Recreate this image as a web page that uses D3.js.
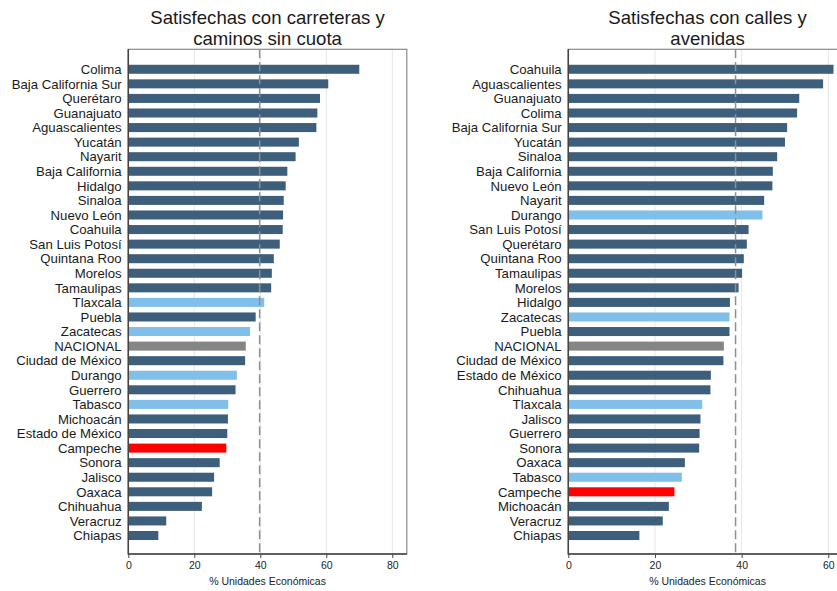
<!DOCTYPE html>
<html>
<head>
<meta charset="utf-8">
<script src="https://cdn.jsdelivr.net/npm/d3@7"></script>
<style>
  body { margin: 0; background: #fff; }
  svg { display: block; font-family: "Liberation Sans", Arial, Helvetica, sans-serif; }
</style>
</head>
<body>
<svg id="chart" width="837" height="591"></svg>
<script>
// ---------- DATA ----------
const titleRoads = ["Satisfechas con carreteras y", "caminos sin cuota"];
const statesRoads = ["Colima","Baja California Sur","Querétaro","Guanajuato","Aguascalientes","Yucatán","Nayarit","Baja California","Hidalgo","Sinaloa","Nuevo León","Coahuila","San Luis Potosí","Quintana Roo","Morelos","Tamaulipas","Tlaxcala","Puebla","Zacatecas","NACIONAL","Ciudad de México","Durango","Guerrero","Tabasco","Michoacán","Estado de México","Campeche","Sonora","Jalisco","Oaxaca","Chihuahua","Veracruz","Chiapas"];
const valuesRoads = [70.0,60.6,58.1,57.3,57.0,51.7,50.7,48.2,47.7,47.1,46.9,46.8,45.9,44.1,43.5,43.3,41.2,38.6,36.9,35.6,35.4,32.9,32.5,30.3,30.2,30.0,29.7,27.7,26.0,25.4,22.3,11.5,9.1];
const refRoads = 39.8;

const titleStreets = ["Satisfechas con calles y", "avenidas"];
const statesStreets = ["Coahuila","Aguascalientes","Guanajuato","Colima","Baja California Sur","Yucatán","Sinaloa","Baja California","Nuevo León","Nayarit","Durango","San Luis Potosí","Querétaro","Quintana Roo","Tamaulipas","Morelos","Hidalgo","Zacatecas","Puebla","NACIONAL","Ciudad de México","Estado de México","Chihuahua","Tlaxcala","Jalisco","Guerrero","Sonora","Oaxaca","Tabasco","Campeche","Michoacán","Veracruz","Chiapas"];
const valuesStreets = [61.2,58.8,53.3,52.8,50.5,50.0,48.2,47.2,47.1,45.2,44.8,41.6,41.2,40.5,40.1,39.3,37.3,37.2,37.2,35.9,35.8,32.9,32.8,30.9,30.5,30.3,30.2,26.9,26.2,24.5,23.2,21.8,16.4];
const refStreets = 38.6;

const lightStates = ["Tlaxcala","Zacatecas","Durango","Tabasco"];
const redStates = ["Campeche"];
const grayStates = ["NACIONAL"];

const ticksRoads = [0,20,40,60,80];
const ticksStreets = [0,20,40,60];
const axisTitle = "% Unidades Económicas";

// ---------- DRAW ----------
const svg = d3.select("#chart");

function barColor(s) {
  if (redStates.includes(s)) return "#ff0000";
  if (grayStates.includes(s)) return "#858585";
  if (lightStates.includes(s)) return "#80bfea";
  return "#3e5f7b";
}

function panel(cfg) {
  const x0 = cfg.left, x1 = cfg.left + 278.5;
  const top = 49.3, bottom = 554;
  const x = d3.scaleLinear().domain([0, cfg.max]).range([x0, x1]);
  const y = d3.scaleBand().domain(cfg.states).range([62, 542.8])
              .paddingInner(0.38).paddingOuter(0.19);
  const g = svg.append("g");

  // gridlines
  g.selectAll("line.grid").data(cfg.ticks.filter(t => t > 0)).join("line")
    .attr("x1", d => x(d)).attr("x2", d => x(d))
    .attr("y1", top).attr("y2", bottom)
    .attr("stroke", "#e6e6e6").attr("stroke-width", 1);

  // frame
  g.append("rect").attr("x", x0).attr("y", top)
    .attr("width", x1 - x0).attr("height", bottom - top)
    .attr("fill", "none").attr("stroke", "#8a8a8a").attr("stroke-width", 1.2);

  // bars
  g.selectAll("rect.bar").data(cfg.states).join("rect")
    .attr("x", x(0)).attr("y", d => y(d))
    .attr("width", (d, i) => x(cfg.values[i]) - x(0))
    .attr("height", y.bandwidth())
    .attr("fill", d => barColor(d));

  // reference dashed line
  g.append("line")
    .attr("x1", x(cfg.ref)).attr("x2", x(cfg.ref))
    .attr("y1", top).attr("y2", bottom)
    .attr("stroke", "#8f8f8f").attr("stroke-width", 1.5)
    .attr("stroke-dasharray", "9,4");

  // category labels
  g.selectAll("text.lab").data(cfg.states).join("text")
    .attr("x", x0 - 6.6).attr("y", d => y(d) + y.bandwidth() / 2)
    .attr("dy", "0.36em")
    .attr("text-anchor", "end")
    .attr("font-size", "13.2px").attr("fill", "#1a1a1a")
    .text(d => d);

  // axes lines
  g.append("line").attr("x1", x0).attr("x2", x0).attr("y1", top).attr("y2", bottom + 0.5)
    .attr("stroke", "#444").attr("stroke-width", 1.5);
  g.append("line").attr("x1", x0).attr("x2", x1).attr("y1", bottom).attr("y2", bottom)
    .attr("stroke", "#444").attr("stroke-width", 1.5);

  // x axis ticks
  const ax = g.append("g").attr("transform", `translate(0,${bottom})`)
    .call(d3.axisBottom(x).tickValues(cfg.ticks).tickSize(4).tickPadding(4).tickFormat(d3.format("d")));
  ax.select(".domain").remove();
  ax.selectAll(".tick line").attr("stroke", "#444");
  ax.selectAll(".tick text").attr("font-size", "10.5px").attr("fill", "#222")
    .attr("font-family", "'Liberation Sans', Arial, sans-serif");

  // axis title
  g.append("text").attr("x", (x0 + x1) / 2).attr("y", 585)
    .attr("text-anchor", "middle").attr("font-size", "10.5px").attr("fill", "#222")
    .text(axisTitle);

  // title (two lines)
  g.selectAll("text.title").data(cfg.title).join("text")
    .attr("x", (x0 + x1) / 2).attr("y", (d, i) => 24 + i * 20.8)
    .attr("text-anchor", "middle").attr("font-size", "18.6px").attr("fill", "#1a1a1a")
    .text(d => d);
}

panel({ left: 128.3, max: 84.4, states: statesRoads, values: valuesRoads, ref: refRoads, ticks: ticksRoads, title: titleRoads });
panel({ left: 568.3, max: 64.27, states: statesStreets, values: valuesStreets, ref: refStreets, ticks: ticksStreets, title: titleStreets });
</script>
</body>
</html>
